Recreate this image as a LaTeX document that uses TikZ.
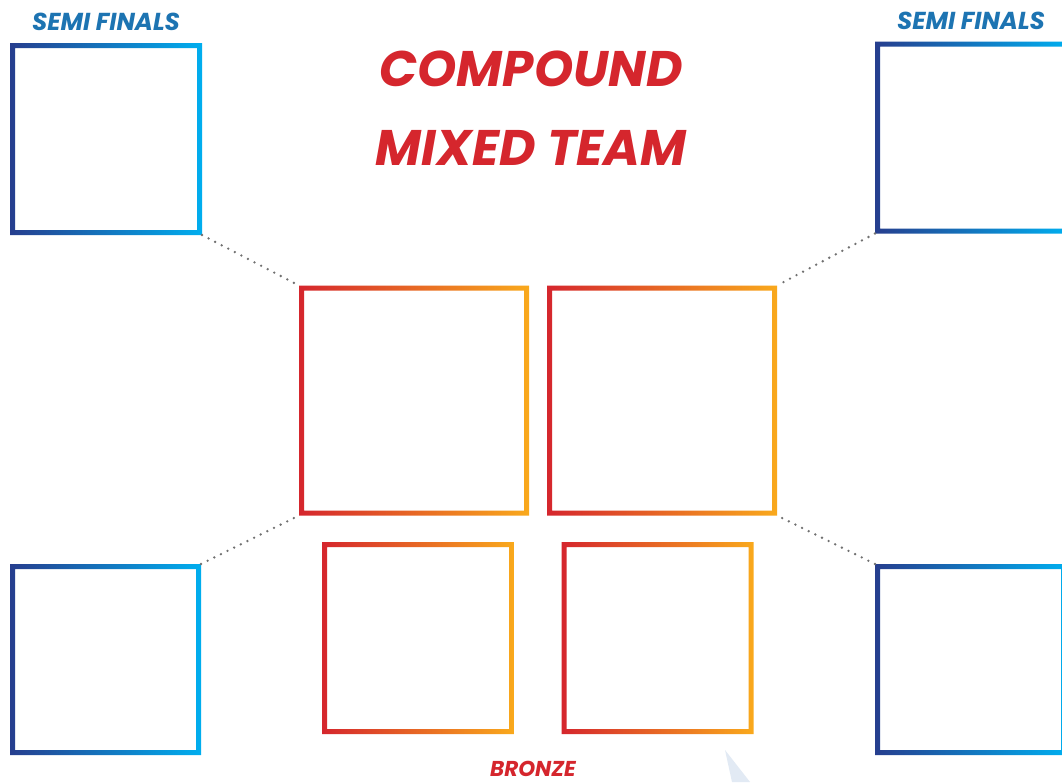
\documentclass[tikz,border=0pt]{standalone}
\usepackage{fontspec}
\setmainfont{Poppins}
\usetikzlibrary{positioning}

\definecolor{navy}{HTML}{263E8E}
\definecolor{sky}{HTML}{00AEEF}
\definecolor{archred}{HTML}{D5262D}
\definecolor{archorange}{HTML}{F9A91C}
\definecolor{semiblue}{HTML}{1D74B2}
\definecolor{wedgeblue}{HTML}{E2EAF4}
\definecolor{dotgray}{HTML}{707070}

\begin{document}
\begin{tikzpicture}[x=1pt,y=-1pt,
    slot/.style={rectangle,minimum width=#1,minimum height=#1,inner sep=0pt,outer sep=0pt},
    slot/.default=192pt,
    link/.style={draw=dotgray,line width=2.6pt,line cap=round,dash pattern=on 0pt off 7.4pt},
    roundlabel/.style={text=semiblue,font=\fontsize{24.5}{24.5}\selectfont\bfseries\itshape},
    titletext/.style={text=archred,font=\fontsize{50}{50}\selectfont\bfseries\itshape}]
    \useasboundingbox (0,0) rectangle (1062,782);
    \fill[white] (0,0) rectangle (1062,782);
    \fill[wedgeblue] (725,750) -- (750,782) -- (732,782) -- cycle;

    % semi final slots
    \node[slot] (semitl) at (106,139) {};
    \node[slot] (semitr) at (971,137.5) {};
    \node[slot=191pt] (semibl) at (105.5,659.5) {};
    \node[slot=191pt] (semibr) at (970.5,659.5) {};
    % gold final and bronze
    \node[slot=230pt] (finall) at (414,400.5) {};
    \node[slot=230pt,right=18pt of finall] (finalr) {};
    \node[slot] (bronzel) at (418,638) {};
    \node[slot] (bronzer) at (657.5,638) {};

    \foreach \n in {semitl,semitr,semibl,semibr}
        \shade[left color=navy,right color=sky,even odd rule]
            (\n.south west) rectangle (\n.north east)
            ([shift={(5pt,5pt)}]\n.south west) rectangle ([shift={(-5pt,-5pt)}]\n.north east);
    \foreach \n in {finall,finalr,bronzel,bronzer}
        \shade[left color=archred,right color=archorange,even odd rule]
            (\n.south west) rectangle (\n.north east)
            ([shift={(5pt,5pt)}]\n.south west) rectangle ([shift={(-5pt,-5pt)}]\n.north east);

    \draw[link] (semitl.south east) -- (finall.north west);
    \draw[link] (semibl.north east) -- (finall.south west);
    \draw[link] (semitr.south west) -- (finalr.north east);
    \draw[link] (semibr.north west) -- (finalr.south east);

    \node[roundlabel] (lbltl) at (106,22) {SEMI FINALS};
    \node[roundlabel] (lbltr) at (971,21) {SEMI FINALS};
    \node[titletext] (title1) at (531,68.5) {COMPOUND};
    \node[titletext] (title2) at (531,148) {MIXED TEAM};
    \node[text=archred,inner sep=0pt,anchor=base,font=\fontsize{21.5}{21.5}\selectfont\bfseries\itshape] (lblbronze) at (533,776) {BRONZE};
\end{tikzpicture}
\end{document}
